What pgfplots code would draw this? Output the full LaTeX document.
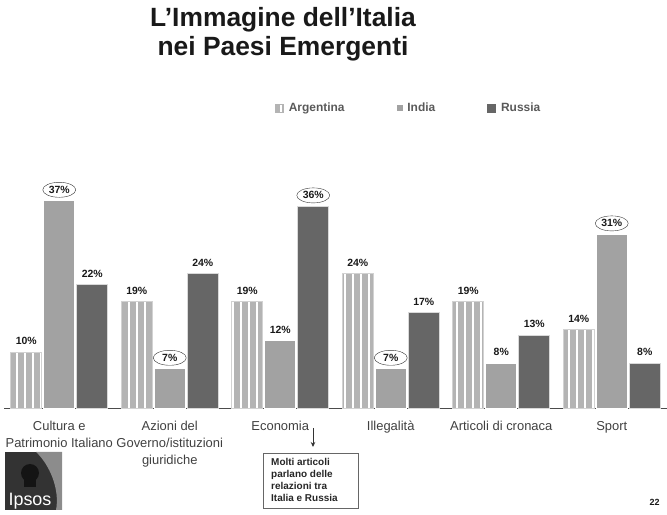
\documentclass[border=0pt]{standalone}
\usepackage{pgfplots}
\pgfplotsset{compat=1.18}
\usepackage{fontspec}
\setmainfont{Liberation Sans}
\usetikzlibrary{patterns.meta,shapes.geometric,arrows.meta}
\definecolor{argc}{HTML}{B4B4B4}
\definecolor{indc}{HTML}{A2A2A2}
\definecolor{rusc}{HTML}{666666}
\begin{document}
\begin{tikzpicture}
\useasboundingbox (0bp,0bp) rectangle (667bp,515bp);
\begin{axis}[
  at={(4bp,107bp)}, anchor=south west,
  scale only axis, width=663bp, height=224bp,
  xmin=-0.5, xmax=5.5, ymin=0, ymax=40,
  ybar, bar width=31bp,
  /pgf/number format/assume math mode=true,
  axis x line=bottom, axis y line=none,
  x axis line style={-, black!70, line width=0.8bp},
  xtick={0,1,2,3,4,5},
  xticklabels={{Cultura e\\Patrimonio Italiano},{Azioni del\\Governo/istituzioni\\giuridiche},{Economia},{Illegalità},{Articoli di cronaca},{Sport}},
  typeset ticklabels with strut,
  xticklabel style={align=center, font=\fontsize{13}{17}\selectfont, text=black!75, anchor=north, yshift=-7bp},
  major tick length=0pt,
  clip=false,
  nodes near coords={\pgfmathprintnumber{\pgfplotspointmeta}\%},
  every node near coord/.append style={font=\bfseries\fontsize{10.5}{12}\selectfont, text=black!90, anchor=center, yshift=11bp},
  legend style={at={(axis description cs:0.404,1.339)}, anchor=west, draw=none, fill=none,
    legend columns=3, font=\bfseries\fontsize{12}{14}\selectfont, text=black!65,
    /tikz/every even column/.style={column sep=50bp}},
]
\addplot[bar shift=-33bp, fill=argc, draw=argc!60!white, line width=0.8bp,
  postaction={pattern={Lines[angle=90,distance=8bp,line width=2bp,xshift=1bp]}, pattern color=white},
  legend image code/.code={\fill[argc] (0bp,-4bp) rectangle (8bp,4bp);}]
  coordinates {(0,10) (1,19) (2,19) (3,24) (4,19) (5,14)};
\addlegendentry{\hspace{3bp}Argentina}
\addplot[bar shift=0bp, fill=indc, draw=white, line width=0.8bp, nodes near coords={},
  legend image code/.code={\fill[indc] (1.5bp,-2.5bp) rectangle (6.5bp,2.5bp);}]
  coordinates {(0,37) (1,7) (2,12) (3,7) (4,8) (5,31)};
\addlegendentry{\hspace{3bp}India}
\addplot[bar shift=33bp, fill=rusc, draw=white!70!gray, line width=0.8bp, nodes near coords={},
  legend image code/.code={\fill[rusc] (0bp,-4bp) rectangle (8bp,4bp);}]
  coordinates {(0,22) (1,24) (2,36) (3,17) (4,13) (5,8)};
\addlegendentry{\hspace{3bp}Russia}
% labels India (plain)
\addplot[forget plot, bar shift=0bp, draw=none, fill=none]
  coordinates {(2,12) (4,8)};
% labels India (circled)
\addplot[forget plot, bar shift=0bp, draw=none, fill=none,
  every node near coord/.append style={draw=black!80, ellipse, inner sep=0.5bp, minimum width=33bp, minimum height=15bp}]
  coordinates {(0,37) (1,7) (3,7) (5,31)};
% labels Russia (plain)
\addplot[forget plot, bar shift=33bp, draw=none, fill=none]
  coordinates {(0,22) (1,24) (3,17) (4,13) (5,8)};
% labels Russia (circled)
\addplot[forget plot, bar shift=33bp, draw=none, fill=none,
  every node near coord/.append style={draw=black!80, ellipse, inner sep=0.5bp, minimum width=33bp, minimum height=15bp}]
  coordinates {(2,36)};
\end{axis}
% title
\node[font=\bfseries\fontsize{26.5}{29}\selectfont, text=black!90, anchor=base] at (283bp,488bp) {L’Immagine dell’Italia};
\node[font=\bfseries\fontsize{26.5}{29}\selectfont, text=black!90, anchor=base] at (283bp,459bp) {nei Paesi Emergenti};
% callout
\draw[-{Stealth[length=5bp,width=4.5bp]}, black!80, line width=1bp] (313bp,87bp) -- (313bp,68bp);
\draw[black!60, line width=0.8bp] (263bp,7bp) rectangle (358bp,62bp);
\node[anchor=north west, align=left, font=\bfseries\fontsize{10}{12}\selectfont, text=black!85, inner sep=0pt] at (271bp,57bp) {Molti articoli\\parlano delle\\relazioni tra\\Italia e Russia};
% logo
\fill[black!80] (5bp,5bp) rectangle (62bp,63bp);
\fill[black!45] (36bp,63bp) -- (62bp,63bp) -- (62bp,5bp) -- (56bp,5bp) .. controls (60bp,25bp) and (50bp,50bp) .. (36bp,63bp);
\fill[black!92] (30bp,42bp) circle (9bp);
\fill[black!92] (24bp,28bp) rectangle (36bp,36bp);
\node[anchor=base, text=white, font=\fontsize{18}{20}\selectfont] at (30bp,10bp) {Ipsos};
% page number
\node[anchor=base east, font=\bfseries\fontsize{9}{10}\selectfont, text=black!90] at (663bp,10bp) {22};
\end{tikzpicture}
\end{document}
